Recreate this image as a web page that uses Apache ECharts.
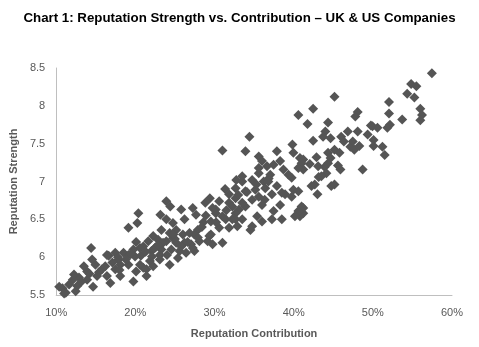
<!DOCTYPE html>
<html>
<head>
<meta charset="utf-8">
<title>Reputation Strength vs. Contribution</title>
<script src="https://cdn.jsdelivr.net/npm/echarts@6/dist/echarts.min.js"></script>
<style>
  html, body { margin: 0; padding: 0; background: #fff; }
  #chart { width: 479px; height: 347px; }
</style>
</head>
<body>
<div id="chart"></div>
<script>
// Reputation contribution (%) for each company
const contribution = [
  57.46, 54.84, 55.50, 54.34, 55.25, 52.04, 52.04, 56.00, 56.21, 56.00,
  53.71, 52.16, 51.84, 49.96, 50.59, 50.09, 50.09, 51.21, 51.50, 45.16,
  42.46, 40.59, 48.09, 47.79, 41.75, 44.34, 44.00, 43.71, 44.66, 42.46,
  46.84, 48.09, 49.34, 49.75, 46.00, 46.34, 47.16, 47.66, 48.29, 47.46,
  45.16, 45.79, 44.34, 44.66, 44.34, 43.91, 44.13, 42.88, 42.04, 41.21,
  41.21, 45.59, 45.91, 48.71, 43.16, 42.25, 43.00, 44.75, 45.16, 42.66,
  43.50, 41.21, 41.21, 34.41, 31.00, 33.91, 37.88, 39.84, 39.96, 35.59,
  36.00, 38.29, 37.46, 40.79, 41.00, 40.59, 43.09, 38.71, 35.59, 37.04,
  34.75, 33.50, 32.75, 36.21, 39.75, 31.34, 32.66, 33.91, 35.16, 36.41,
  37.88, 37.25, 38.50, 39.96, 39.75, 38.29, 41.00, 40.79, 38.50, 37.25,
  37.46, 34.75, 36.00, 34.75, 33.91, 32.66, 31.84, 33.09, 30.59, 30.16,
  31.00, 32.25, 33.50, 35.38, 36.00, 29.41, 23.91, 24.41, 20.38, 20.25,
  23.16, 23.91, 24.75, 25.79, 26.21, 27.25, 27.66, 28.84, 28.59, 29.75,
  29.54, 22.25, 23.29, 24.34, 25.16, 26.00, 26.84, 27.88, 29.34, 29.75,
  31.00, 28.09, 27.04, 26.21, 25.16, 23.91, 22.88, 21.63, 20.59, 26.41,
  27.46, 25.59, 24.54, 23.29, 22.04, 19.96, 19.13, 14.41, 14.54, 16.41,
  17.46, 18.50, 19.75, 19.13, 20.09, 21.00, 19.75, 21.41, 18.09, 17.46,
  16.41, 16.84, 15.79, 15.16, 14.96, 13.91, 13.91, 12.88, 12.66, 11.63,
  10.79, 11.21, 10.38, 14.66, 11.00, 12.46, 18.09, 12.25, 13.50, 19.13,
  17.88, 16.63, 20.59, 21.41, 21.84, 23.09, 22.66, 21.00, 34.54, 40.59,
  40.16, 24.34, 23.09, 25.38, 22.25, 33.50, 36.84, 39.34, 31.84, 30.16,
  32.25, 32.66, 33.50, 35.59, 36.34, 38.91, 40.59, 32.66, 31.41, 30.59,
  31.84, 32.88, 29.54, 29.13, 24.75, 27.46, 27.25, 25.79, 23.50, 22.46,
  36.63, 35.59,
  15.40, 16.20, 17.10, 18.00, 18.80, 19.40, 20.70, 21.30, 22.10, 22.90,
  24.00, 25.00, 26.60, 27.90, 28.40, 30.20, 31.50, 33.00, 34.10, 35.30,
  13.20, 12.10, 14.20, 17.80, 20.10, 24.80, 28.90, 36.80
];

// Reputation strength score for each company (same order)
const strength = [
  8.43, 8.29, 8.26, 8.16, 8.11, 8.05, 7.90, 7.96, 7.88, 7.81,
  7.82, 7.75, 7.71, 7.73, 7.71, 7.55, 7.47, 7.46, 7.35, 8.12,
  7.96, 7.88, 7.92, 7.86, 7.76, 7.78, 7.66, 7.59, 7.57, 7.54,
  7.66, 7.66, 7.62, 7.74, 7.59, 7.53, 7.46, 7.42, 7.47, 7.53,
  7.42, 7.38, 7.38, 7.31, 7.24, 7.19, 7.11, 7.32, 7.23, 7.29,
  7.16, 7.21, 7.16, 7.16, 7.06, 6.94, 6.83, 6.94, 6.96, 6.96,
  7.07, 6.58, 6.65, 7.59, 7.41, 7.40, 7.40, 7.49, 7.38, 7.33,
  7.27, 7.27, 7.22, 7.31, 7.24, 7.18, 7.20, 7.16, 7.11, 7.09,
  7.02, 7.00, 7.02, 7.00, 7.05, 6.90, 6.91, 6.87, 6.89, 6.91,
  6.94, 6.83, 6.85, 6.89, 6.80, 6.69, 6.67, 6.54, 6.50, 6.50,
  6.61, 6.41, 6.69, 6.76, 6.67, 6.78, 6.72, 6.63, 6.74, 6.63,
  6.54, 6.50, 6.50, 6.54, 6.47, 6.78, 6.74, 6.67, 6.58, 6.45,
  6.56, 6.50, 6.45, 6.63, 6.50, 6.65, 6.56, 6.72, 6.46, 6.65,
  6.47, 6.28, 6.36, 6.32, 6.36, 6.30, 6.32, 6.36, 6.28, 6.17,
  6.19, 6.21, 6.17, 6.19, 6.19, 6.21, 6.23, 6.21, 6.12, 6.06,
  6.08, 6.08, 6.10, 6.10, 6.08, 6.01, 6.39, 6.12, 5.97, 6.03,
  6.06, 6.06, 6.10, 5.90, 5.81, 5.86, 5.68, 5.75, 5.90, 5.84,
  5.75, 5.66, 5.84, 5.75, 5.90, 5.81, 5.70, 5.73, 5.62, 5.64,
  5.59, 5.53, 5.61, 5.61, 5.52, 5.55, 5.75, 5.77, 5.88, 6.03,
  5.97, 6.02, 5.90, 5.84, 5.95, 6.03, 6.14, 6.14, 6.36, 6.61,
  6.54, 5.90, 5.97, 5.99, 5.88, 7.07, 7.04, 7.09, 6.83, 6.58,
  6.67, 6.58, 6.72, 6.80, 6.76, 6.83, 6.87, 6.50, 6.50, 6.39,
  6.39, 6.41, 6.30, 6.21, 6.25, 6.30, 6.12, 6.14, 6.19, 6.12,
  7.20, 7.18,
  5.80, 5.88, 5.93, 5.83, 5.97, 6.04, 6.02, 6.07, 6.01, 6.16,
  6.03, 6.24, 6.20, 6.26, 6.40, 6.46, 6.62, 6.82, 6.86, 6.96,
  5.68, 5.70, 5.78, 6.00, 6.20, 6.30, 6.55, 7.00
];

// Axis ranges and tick steps
const xRange = { min: 10, max: 60, step: 10 };
const yRange = { min: 5.5, max: 8.5, step: 0.5 };

const points = contribution.map((c, i) => [c, strength[i]]);

const axisGray = '#595959';
const lineGray = '#BFBFBF';
const font = 'Liberation Sans, Arial, sans-serif';

const chart = echarts.init(document.getElementById('chart'), null, { renderer: 'canvas' });

chart.setOption({
  animation: false,
  backgroundColor: '#ffffff',
  title: {
    text: 'Chart 1: Reputation Strength vs. Contribution \u2013 UK & US Companies',
    left: 'center',
    top: 7,
    textStyle: { fontFamily: font, fontSize: 13.3, fontWeight: 'bold', color: '#000000' }
  },
  grid: { left: 52, right: 27, top: 68, bottom: 52, containLabel: false },
  xAxis: {
    type: 'value',
    min: xRange.min,
    max: xRange.max,
    interval: xRange.step,
    name: 'Reputation Contribution',
    nameLocation: 'middle',
    nameGap: 33,
    nameTextStyle: { fontFamily: font, fontSize: 11, fontWeight: 'bold', color: axisGray },
    axisLine: { show: true, lineStyle: { color: lineGray, width: 1 } },
    axisTick: { show: false },
    splitLine: { show: false },
    axisLabel: {
      formatter: '{value}%',
      margin: 12,
      fontFamily: font, fontSize: 11, color: axisGray
    }
  },
  yAxis: {
    type: 'value',
    min: yRange.min,
    max: yRange.max,
    interval: yRange.step,
    name: 'Reputation Strength',
    nameLocation: 'middle',
    nameGap: 34,
    nameRotate: 90,
    nameTextStyle: { fontFamily: font, fontSize: 11, fontWeight: 'bold', color: axisGray },
    axisLine: { show: true, lineStyle: { color: lineGray, width: 1 } },
    axisTick: { show: false },
    splitLine: { show: false },
    axisLabel: {
      margin: 11,
      fontFamily: font, fontSize: 11, color: axisGray,
      formatter: v => String(+v.toFixed(1))
    }
  },
  series: [{
    type: 'scatter',
    symbol: 'diamond',
    symbolSize: 10,
    itemStyle: { color: '#555555', opacity: 1 },
    data: points
  }]
});
</script>
</body>
</html>
